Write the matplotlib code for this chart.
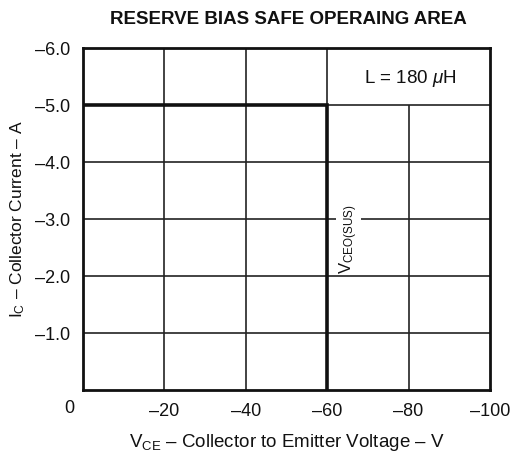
import matplotlib
matplotlib.use("Agg")
import matplotlib.pyplot as plt

plt.rcParams['font.family'] = ['Liberation Sans', 'DejaVu Sans']
plt.rcParams['mathtext.fontset'] = 'custom'
plt.rcParams['mathtext.rm'] = 'Liberation Sans'
plt.rcParams['mathtext.it'] = 'Liberation Sans:italic'

# datos
vce_ticks = [-20, -40, -60, -80, -100]
vce_labels = ["\u201320", "\u201340", "\u201360", "\u201380", "\u2013100"]
ic_ticks = [-1.0, -2.0, -3.0, -4.0, -5.0, -6.0]
ic_labels = ["\u20131.0", "\u20132.0", "\u20133.0", "\u20134.0", "\u20135.0", "\u20136.0"]
# hasta donde llega cada linea vertical de la grilla (la de -80 no sube sobre L=...)
vgrid_top = [-6.0, -6.0, -6.0, -5.0]
# limite RBSOA
vce_lim = [0, -60, -60]
ic_lim = [-5.0, -5.0, 0]

fig = plt.figure(figsize=(5.14, 4.53), dpi=100)
ax = fig.add_axes([0.1615, 0.139, 0.7918, 0.755])

ax.set_xlim(0, -100)
ax.set_ylim(0, -6)
ax.set_xticks(vce_ticks)
ax.set_xticklabels(vce_labels, fontsize=13)
ax.set_yticks(ic_ticks)
ax.set_yticklabels(ic_labels, fontsize=13)
ax.tick_params(length=0, pad=9, colors='#111')

# grilla
ax.vlines(vce_ticks[:-1], 0, vgrid_top, color='#222', linewidth=1.2)
ax.hlines(ic_ticks[:-1], 0, -100, color='#222', linewidth=1.2)
for s in ax.spines.values():
    s.set_linewidth(2)
    s.set_color('#111')

ax.plot(vce_lim, ic_lim, color='#111', linewidth=2.6, solid_joinstyle='miter')

ax.annotate("0", xy=(0, 0), xytext=(-10, -13), textcoords='offset points',
            ha='center', va='center', fontsize=13, color='#111')

ax.text(-80.3, -5.47, "L = 180 $\\mu$H", ha='center', va='center', fontsize=13.5, color='#111')
ax.text(-65.2, -2.65, "V$_\\mathregular{CEO(SUS)}$", rotation=90, ha='center', va='center',
        fontsize=12, color='#111',
        bbox=dict(facecolor='white', edgecolor='none', pad=1))

ax.set_xlabel("V$_\\mathregular{CE}$ \u2013 Collector to Emitter Voltage \u2013 V", fontsize=13.5,
              labelpad=9, color='#111')
ax.set_ylabel("I$_\\mathregular{C}$ \u2013 Collector Current \u2013 A", fontsize=12.5,
              labelpad=6, color='#111')
fig.text(0.562, 0.958, "RESERVE BIAS SAFE OPERAING AREA", ha='center', va='center',
         fontsize=13.5, fontweight='bold', color='#111')

fig.savefig("out.png", dpi=100)
